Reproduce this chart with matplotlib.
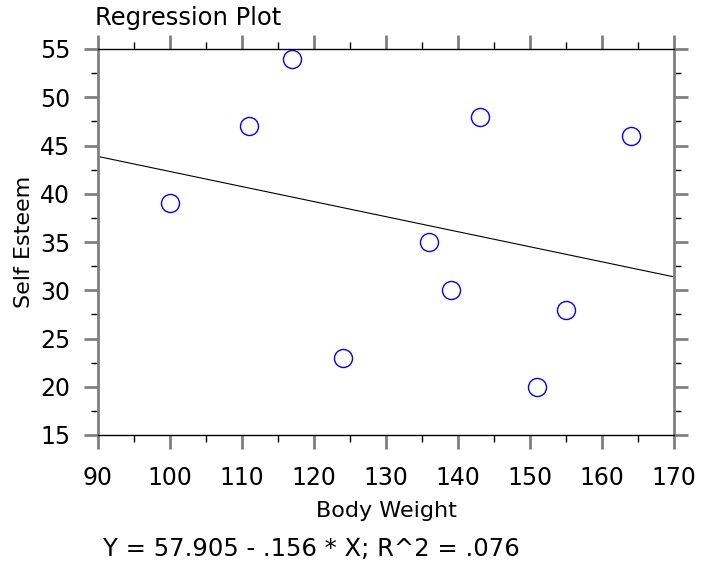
import matplotlib.pyplot as plt
import numpy as np
from matplotlib.ticker import MultipleLocator

body_weight = [100, 111, 117, 124, 136, 139, 143, 151, 155, 164]
self_esteem = [39, 47, 54, 23, 35, 30, 48, 20, 28, 46]
intercept = 57.905
slope = -0.156
footer = "Y = 57.905 - .156 * X; R^2 = .076"

font_size = 17
fig = plt.figure(figsize=(7.1, 5.62), dpi=100)
ax = fig.add_axes([98 / 710, 1 - 435 / 562, 576 / 710, 386 / 562])

ax.plot(body_weight, self_esteem, 'o', markersize=13, markerfacecolor='none',
        markeredgecolor='#0000ff', markeredgewidth=1)
xs = np.array([90, 170])
ax.plot(xs, intercept + slope * xs, color='black', linewidth=0.8)

ax.set(xlim=(90, 170), ylim=(15, 55))
ax.xaxis.set_major_locator(MultipleLocator(10))
ax.xaxis.set_minor_locator(MultipleLocator(5))
ax.yaxis.set_major_locator(MultipleLocator(5))
ax.yaxis.set_minor_locator(MultipleLocator(2.5))
ax.tick_params(which='major', direction='out', length=10, width=2, color='#808080',
               top=True, right=True, labelsize=font_size)
ax.tick_params(which='minor', direction='out', length=5, width=1, color='black',
               top=True, right=True)
ax.tick_params(axis='x', which='major', pad=12)
ax.tick_params(axis='y', which='major', pad=10)

for side in ['left', 'right']:
    ax.spines[side].set_color('#808080')
    ax.spines[side].set_linewidth(2)
for side in ['top', 'bottom']:
    ax.spines[side].set_color('black')
    ax.spines[side].set_linewidth(1)

ax.set_xlabel("Body Weight", fontsize=16, labelpad=8)
ax.set_ylabel("Self Esteem", fontsize=16, labelpad=4)
fig.text(95 / 710, 1 - 18 / 562, "Regression Plot", fontsize=17.5, ha='left', va='center')
fig.text(103 / 710, 1 - 549 / 562, footer, fontsize=17.5, ha='left', va='center')

plt.savefig("out.png", dpi=100)
